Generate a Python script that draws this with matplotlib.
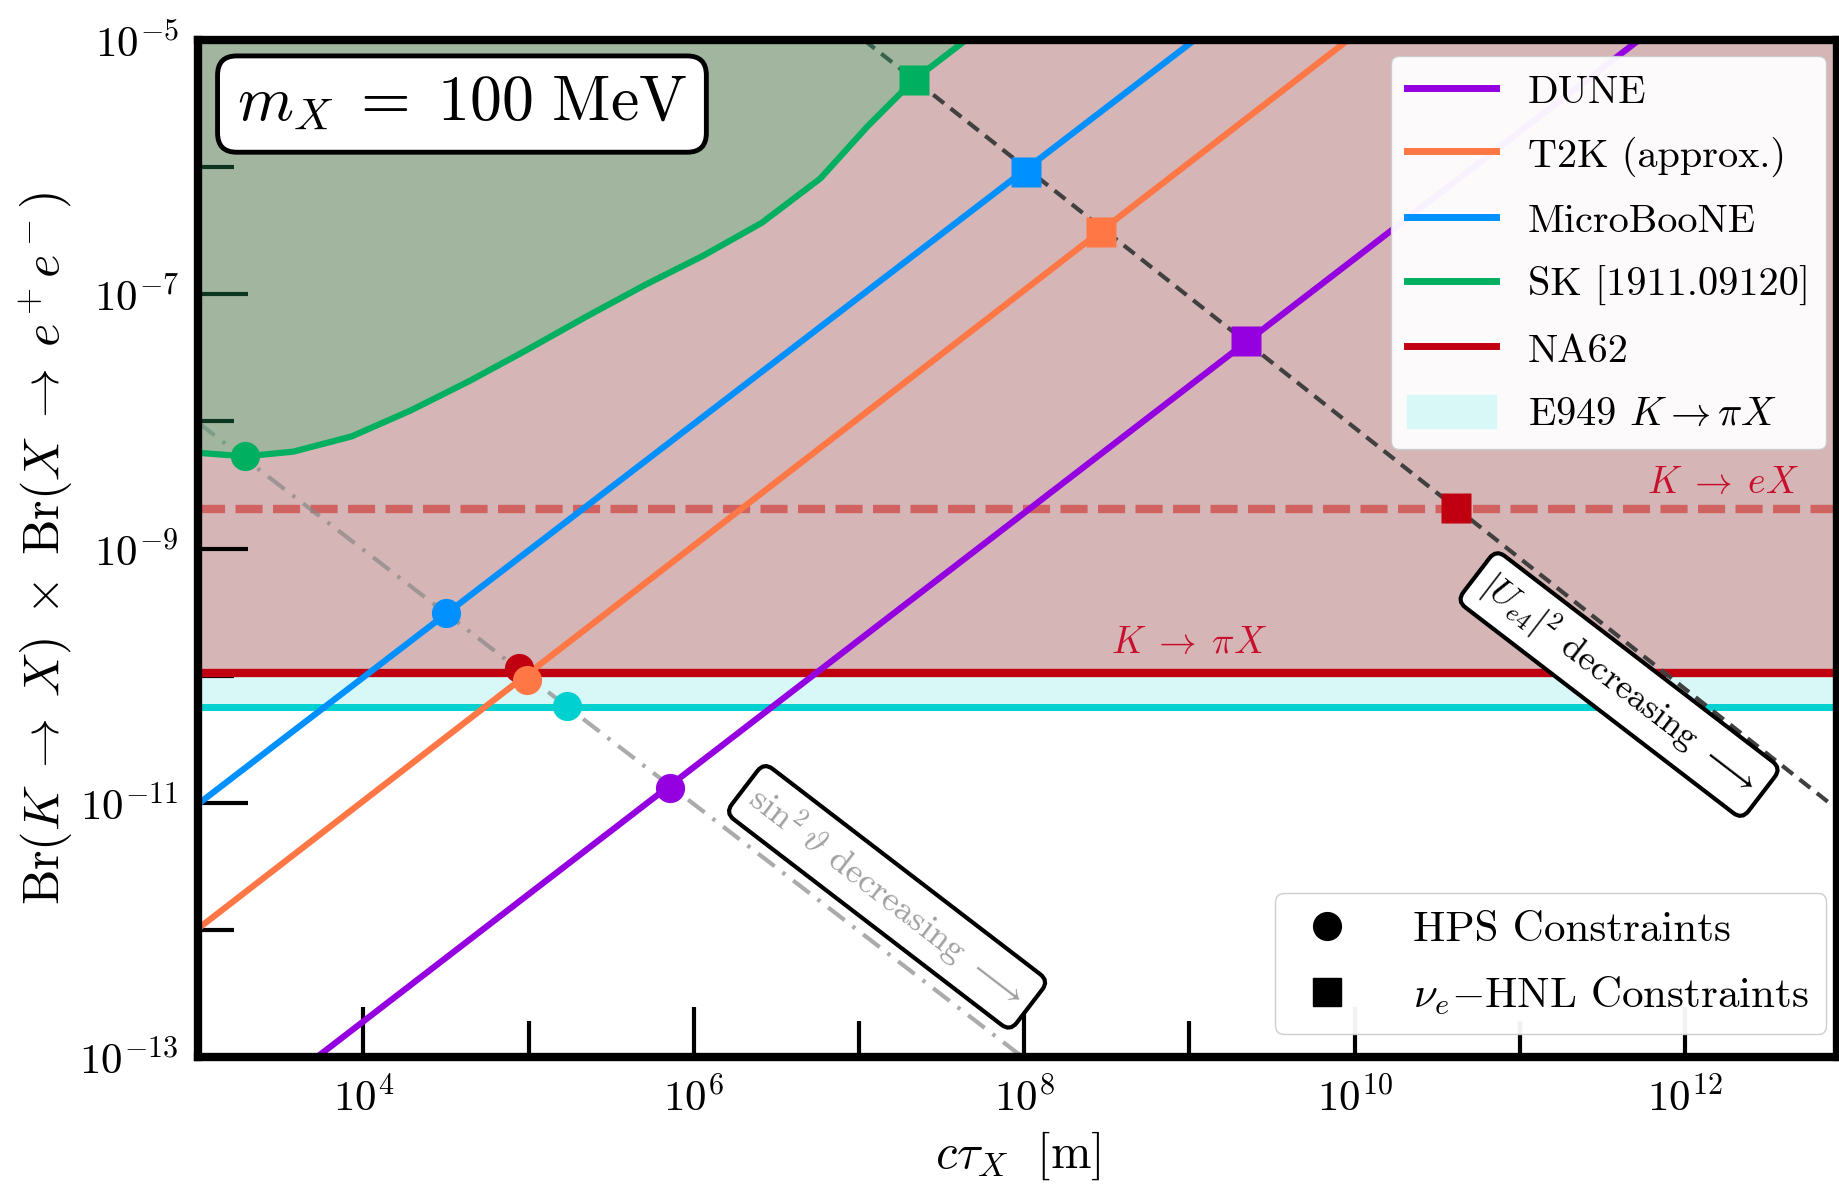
import numpy as np
import matplotlib
matplotlib.use("Agg")
import matplotlib.pyplot as plt
from matplotlib.lines import Line2D
from matplotlib.patches import Patch

plt.rcParams['font.family'] = 'serif'
plt.rcParams['font.serif'] = ['cmr10']
plt.rcParams['mathtext.fontset'] = 'cm'
plt.rcParams['axes.formatter.use_mathtext'] = True

# axis ranges
XLIM = [1e3, 10**12.92]
YLIM = [1e-13, 1e-5]

dune_x = [10**3.72, 10**11.72]
dune_y = [1e-13, 1e-5]
t2k_x = [1e3, 10**9.96]
t2k_y = [10**-11.99, 1e-5]
ub_x = [1e3, 10**9.03]
ub_y = [10**-11.01, 1e-5]

# SK [1911.09120] curve (log10 values)
sk_lx = [3.0, 3.285, 3.576, 3.93, 4.285, 4.64, 4.994, 5.348, 5.703, 6.057, 6.412, 6.767,
         7.05, 7.334, 7.688, 7.8]
sk_ly = [-8.247, -8.275, -8.238, -8.118, -7.915, -7.684, -7.435, -7.177, -6.928, -6.697, -6.438, -6.088,
         -5.682, -5.312, -4.96, -4.85]
sk_x = [10**v for v in sk_lx]
sk_y = [10**v for v in sk_ly]

# kaon limits
na62 = 1.05e-10
e949 = 5.7e-11
k_ex = 2.05e-9

# sin^2 theta (HPS) and |U_e4|^2 (HNL) trajectories
hps_x = [1e3, 10**7.99]
hps_y = [10**-8.01, 1e-13]
hnl_x = [10**7.03, 10**12.92]
hnl_y = [1e-5, 10**-11.05]

# HPS constraint points (circles)
hps_pts_x = [10**3.285, 10**4.503, 10**4.943, 10**4.991, 10**5.235, 10**5.854]
hps_pts_y = [10**-8.275, 10**-9.511, 10**-9.936, 10**-10.035, 10**-10.24, 10**-10.88]
# nu_e - HNL constraint points (squares)
hnl_pts_x = [10**7.335, 10**8.01, 10**8.463, 10**9.34, 10**10.614]
hnl_pts_y = [10**-5.315, 10**-6.036, 10**-6.508, 10**-7.37, 10**-8.68]

c_dune = '#9400e0'
c_t2k = '#ff7744'
c_ub = '#0090ff'
c_sk = '#00b060'
c_na62 = '#c00010'
c_e949 = '#00d0d0'
pt_cols_hps = [c_sk, c_ub, c_na62, c_t2k, c_e949, c_dune]
pt_cols_hnl = [c_sk, c_ub, c_t2k, c_dune, c_na62]

fig = plt.figure(figsize=(18.39, 11.94), dpi=100)
ax = fig.add_axes([0.1077, 0.1147, 0.8913, 0.8518])
ax.set_xscale('log')
ax.set_yscale('log')

# shaded regions
ax.fill_between(XLIM, [na62, na62], [YLIM[1], YLIM[1]], color='#d5b5b5', lw=0, zorder=0)
ax.fill_between(sk_x, sk_y, YLIM[1], color='#2eb56f', alpha=0.3, lw=0, zorder=2.6)
ax.fill_between(XLIM, [e949, e949], [na62, na62], color='#d8f8f8', lw=0, zorder=0)

# horizontal limits
ax.axhline(na62, color=c_na62, lw=6, zorder=2)
ax.axhline(e949, color=c_e949, lw=5, zorder=2)
ax.axhline(k_ex, color='#d06262', lw=6, dashes=(3.25, 1.25), zorder=2)

# trajectories
ax.plot(hps_x, hps_y, color='#888888', alpha=0.7, lw=3, dashes=(5, 2.4, 0.8, 2.4), zorder=2.2)
ax.plot(hnl_x, hnl_y, color='#404040', lw=3, dashes=(3.3, 2.0), zorder=2.2)

# experiment lines
ax.plot(dune_x, dune_y, color=c_dune, lw=4.5, zorder=3)
ax.plot(t2k_x, t2k_y, color=c_t2k, lw=4.5, zorder=3)
ax.plot(ub_x, ub_y, color=c_ub, lw=4.5, zorder=3)
ax.plot(sk_x, sk_y, color=c_sk, lw=4.5, zorder=3)

for x, y, c in zip(hps_pts_x, hps_pts_y, pt_cols_hps):
    ax.plot(x, y, 'o', color=c, ms=21, mec='none', zorder=4)
for x, y, c in zip(hnl_pts_x, hnl_pts_y, pt_cols_hnl):
    ax.plot(x, y, 's', color=c, ms=22, mec='none', zorder=4)

ax.set_xlim(XLIM)
ax.set_ylim(YLIM)

# ticks
ax.set_xticks([10.0**k for k in [4, 6, 8, 10, 12]])
ax.set_xticks([10.0**k for k in [3, 5, 7, 9, 11]], minor=True)
ax.set_yticks([10.0**k for k in [-13, -11, -9, -7, -5]])
ax.set_yticks([10.0**k for k in [-12, -10, -8, -6]], minor=True)
ax.xaxis.set_minor_formatter(matplotlib.ticker.NullFormatter())
ax.yaxis.set_minor_formatter(matplotlib.ticker.NullFormatter())
ax.tick_params(which='major', direction='in', length=36, width=3, labelsize=31, pad=14)
ax.tick_params(which='minor', direction='in', length=26, width=3)
for s in ax.spines.values():
    s.set_linewidth(6)
    s.set_zorder(3.5)

ax.set_xlabel(r'$c\tau_X\ \ [\mathrm{m}]$', fontsize=35, labelpad=7)
ax.set_ylabel(r'$\mathrm{Br}(K\;\to\;X)\;\times\;\mathrm{Br}(X\;\to\;e^+e^-)$', fontsize=36, labelpad=3)

# annotations
ax.text(10**9.0, 10**-9.75, r'$K\;\to\;\pi X$', color='#c8102e', fontsize=27, ha='center', va='center', zorder=3)
ax.text(10**12.69, 10**-8.49, r'$K\;\to\;eX$', color='#c8102e', fontsize=27, ha='right', va='center', zorder=3)
ax.text(10**7.17, 10**-11.74, r'$\sin^2\vartheta$ decreasing $\longrightarrow$', color='#a0a0a0',
        fontsize=26, rotation=-37.5, rotation_mode='anchor', ha='center', va='center', zorder=6,
        bbox=dict(boxstyle='round,pad=0.3', fc='white', ec='black', lw=3))
ax.text(10**11.6, 10**-10.07, r'$|U_{e4}|^2$ decreasing $\longrightarrow$', color='black',
        fontsize=26, rotation=-37.5, rotation_mode='anchor', ha='center', va='center', zorder=6,
        bbox=dict(boxstyle='round,pad=0.3', fc='white', ec='black', lw=3))
ax.text(0.161, 0.937, r'$m_X\;=\;100\ \mathrm{MeV}$', transform=ax.transAxes, fontsize=46,
        ha='center', va='center', zorder=6,
        bbox=dict(boxstyle='round,pad=0.3', fc='white', ec='black', lw=3.5))

# legends
h1 = [Line2D([], [], color=c_dune, lw=5), Line2D([], [], color=c_t2k, lw=5),
      Line2D([], [], color=c_ub, lw=5), Line2D([], [], color=c_sk, lw=5),
      Line2D([], [], color=c_na62, lw=5), Patch(color='#d8f8f8')]
l1 = ['DUNE', 'T2K (approx.)', 'MicroBooNE', 'SK [1911.09120]', 'NA62', r'E949 $K\to\pi X$']
leg1 = ax.legend(h1, l1, loc='upper right', bbox_to_anchor=(0.9933, 0.984), borderaxespad=0,
                 fontsize=29, framealpha=0.95, handlelength=2.2, handleheight=0.9, labelspacing=0.62)
leg1.set_zorder(7)
ax.add_artist(leg1)
h2 = [Line2D([], [], marker='o', color='black', ls='none', ms=20),
      Line2D([], [], marker='s', color='black', ls='none', ms=20)]
l2 = ['HPS Constraints', r'$\nu_e{-}$HNL Constraints']
leg2 = ax.legend(h2, l2, loc='lower right', bbox_to_anchor=(0.9933, 0.0226), borderaxespad=0,
                 fontsize=31, framealpha=0.95, handlelength=1.6, labelspacing=0.6, handletextpad=1.2)
leg2.set_zorder(7)

fig.savefig('out.png', dpi=100)
